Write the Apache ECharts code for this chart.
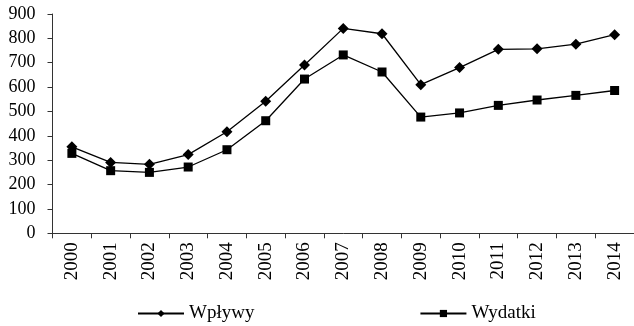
<!DOCTYPE html>
<html>
<head>
<meta charset="utf-8">
<script src="https://cdn.jsdelivr.net/npm/echarts@6/dist/echarts.min.js"></script>
<style>html,body{margin:0;padding:0;background:#fff;}#c{width:634px;height:326px;}</style>
</head>
<body>
<div id="c"></div>
<script>
const years = ['2000','2001','2002','2003','2004','2005','2006','2007','2008','2009','2010','2011','2012','2013','2014'];
const wplywy = [355, 291, 283, 323, 417, 542, 691, 841, 819, 610, 680, 755, 757, 776, 815];
const wydatki = [328, 257, 250, 272, 343, 462, 633, 732, 662, 477, 494, 525, 547, 566, 586];
const yTicks = {min: 0, max: 900, interval: 100};

const font = 'Liberation Serif';
const chart = echarts.init(document.getElementById('c'), null, {renderer: 'canvas'});
chart.setOption({
  animation: false,
  backgroundColor: '#fff',
  grid: {left: 52.5, top: 14, width: 588, height: 219.3},
  legend: {
    left: 132, top: 299,
    itemWidth: 46, itemHeight: 9, itemGap: 165,
    textStyle: {fontFamily: font, fontSize: 19, color: '#000'},
    data: ['Wpływy', 'Wydatki']
  },
  xAxis: {
    type: 'category', data: years, boundaryGap: true,
    axisLine: {lineStyle: {color: '#333', width: 1}},
    axisTick: {show: true, length: 5, lineStyle: {color: '#333'}},
    axisLabel: {rotate: 90, margin: 9, fontFamily: font, fontSize: 19, color: '#000'},
    splitLine: {show: false}
  },
  yAxis: {
    type: 'value', min: yTicks.min, max: yTicks.max, interval: yTicks.interval,
    axisLine: {show: true, lineStyle: {color: '#333', width: 1}},
    axisTick: {show: true, length: 5, lineStyle: {color: '#333'}},
    axisLabel: {margin: 17, fontFamily: font, fontSize: 18, color: '#000'},
    splitLine: {show: false}
  },
  series: [
    {name: 'Wpływy', type: 'line', data: wplywy, symbol: 'diamond', symbolSize: 11,
     lineStyle: {color: '#000', width: 1.3}, itemStyle: {color: '#000'}},
    {name: 'Wydatki', type: 'line', data: wydatki, symbol: 'rect', symbolSize: 9,
     lineStyle: {color: '#000', width: 1.3}, itemStyle: {color: '#000'}}
  ]
});
</script>
</body>
</html>
